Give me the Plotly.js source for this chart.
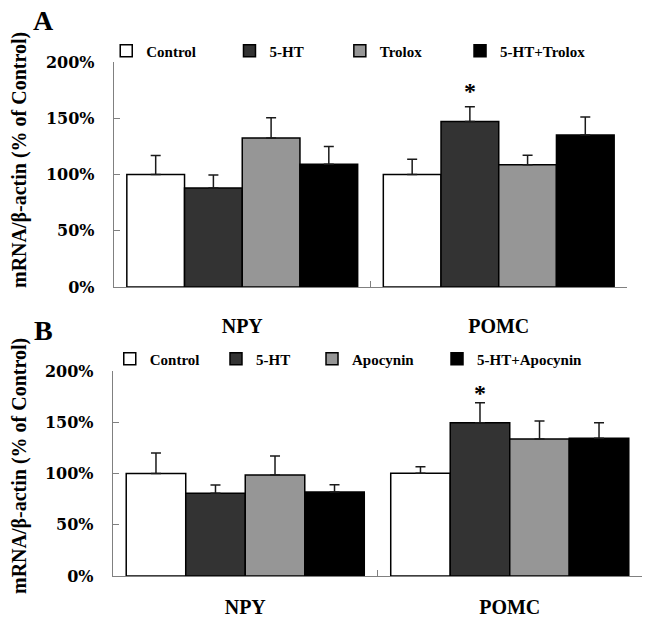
<!DOCTYPE html>
<html>
<head>
<meta charset="utf-8">
<script src="https://cdn.plot.ly/plotly-3.0.1.min.js"></script>
<style>html,body{margin:0;padding:0;background:#fff;}#chart{width:648px;height:619px;}</style>
</head>
<body>
<div id="chart"></div>
<script>
// ---- data ----
const categories = ['NPY', 'POMC'];
const seriesA = ['Control', '5-HT', 'Trolox', '5-HT+Trolox'];
const seriesB = ['Control', '5-HT', 'Apocynin', '5-HT+Apocynin'];

const controlA = [100, 100];
const controlAErr = [16.8, 13.5];
const htA = [88, 147.2];
const htAErr = [11.5, 13];
const troloxA = [132.5, 108.6];
const troloxAErr = [18, 8.5];
const htTroloxA = [109.1, 135.1];
const htTroloxAErr = [15.7, 16];

const controlB = [100, 100.2];
const controlBErr = [20, 6.5];
const htB = [80.7, 149.6];
const htBErr = [8, 19.5];
const apocyninB = [98.5, 133.7];
const apocyninBErr = [18.5, 17.5];
const htApocyninB = [82, 134.3];
const htApocyninBErr = [7, 15.3];

const yTicks = [0, 50, 100, 150, 200];
const yTickText = ['0%', '50%', '100%', '150%', '200%'];
const panelLabels = ['A', 'B'];
const yTitle = 'mRNA/β-actin (% of Control)';
const significance = '*';

// ---- style ----
const fills = ['#ffffff', '#333333', '#969696', '#000000'];
const serif = '"Liberation Serif", "Times New Roman", Times, serif';
const axisGray = '#808080';

const valsA = [controlA, htA, troloxA, htTroloxA];
const errsA = [controlAErr, htAErr, troloxAErr, htTroloxAErr];
const valsB = [controlB, htB, apocyninB, htApocyninB];
const errsB = [controlBErr, htBErr, apocyninBErr, htApocyninBErr];

const traces = [];
function addPanel(names, vals, errs, xa, ya, legendOffset) {
  names.forEach((n, i) => {
    traces.push({
      type: 'bar', name: n, x: categories, y: vals[i],
      xaxis: xa, yaxis: ya,
      legend: 'legend' + (legendOffset + i === 1 ? '' : (legendOffset + i)),
      marker: {color: fills[i], line: {color: '#000', width: 1.5}},
      error_y: {type: 'data', symmetric: false, array: errs[i],
                arrayminus: errs[i].map(() => 0),
                color: '#1a1a1a', thickness: 1.5, width: 5},
      hoverinfo: 'name+y'
    });
  });
}
addPanel(seriesA, valsA, errsA, 'x', 'y', 1);
addPanel(seriesB, valsB, errsB, 'x2', 'y2', 5);

const legendFont = {family: serif, size: 15, color: '#000', weight: 'bold'};
const legendXA = [-0.0128, 0.2202, 0.4288, 0.6560];
const legendXB = [-0.0061, 0.1947, 0.3762, 0.6125];
const legendYA = 1.0214, legendYB = 0.4222;

function yAxis(domain, anchor) {
  return {
    domain: domain, anchor: anchor, range: [0, 200],
    tickmode: 'array', tickvals: yTicks, ticktext: yTickText,
    ticks: 'inside', ticklen: 6, tickcolor: axisGray, tickwidth: 1.3,
    showline: true, linecolor: axisGray, linewidth: 1.3,
    showgrid: false, zeroline: false,
    tickfont: {family: '"DejaVu Serif", serif', size: 16, color: '#000', weight: 'bold'},
    ticklabelstandoff: 15, fixedrange: true
  };
}
function xAxis(domain, anchor, standoff) {
  return {
    domain: domain, anchor: anchor, type: 'category',
    tickson: 'boundaries', ticks: 'inside', ticklen: 6, tickcolor: axisGray, tickwidth: 1.3,
    showline: true, linecolor: axisGray, linewidth: 1.3,
    showgrid: false, zeroline: false,
    tickfont: {family: serif, size: 20, color: '#000', weight: 'bold'},
    ticklabelstandoff: standoff, fixedrange: true
  };
}

const layout = {
  width: 648, height: 619,
  margin: {l: 113, r: 6, t: 62, b: 43},
  paper_bgcolor: '#fff', plot_bgcolor: '#fff',
  barmode: 'group', bargap: 0.1, bargroupgap: 0,
  xaxis: xAxis([0.0019, 0.9716], 'y', 21),
  yaxis: yAxis([0.5623, 1], 'x'),
  xaxis2: xAxis([0, 1], 'y2', 13),
  yaxis2: yAxis([0, 0.3988], 'x2'),
  annotations: [],
  showlegend: true
};

for (let i = 0; i < 8; i++) {
  const key = 'legend' + (i === 0 ? '' : (i + 1));
  const isA = i < 4;
  layout[key] = {
    x: isA ? legendXA[i] : legendXB[i - 4],
    y: isA ? legendYA : legendYB,
    xanchor: 'left', yanchor: 'middle',
    orientation: 'h', bgcolor: 'rgba(0,0,0,0)', borderwidth: 0,
    font: legendFont, traceorder: 'normal'
  };
}

// panel letters
[[panelLabels[0], 1.0798], [panelLabels[1], 0.4767]].forEach(([t, y]) => {
  layout.annotations.push({text: t, xref: 'paper', yref: 'paper', x: -0.1314, y: y,
    xanchor: 'center', yanchor: 'middle', showarrow: false,
    font: {family: serif, size: 28, color: '#000', weight: 'bold'}});
});
// y titles
[0.8093, 0.2140].forEach(y => {
  layout.annotations.push({text: yTitle, xref: 'paper', yref: 'paper', x: -0.1777, y: y,
    xanchor: 'center', yanchor: 'middle', textangle: -90, showarrow: false,
    font: {family: serif, size: 20, color: '#000', weight: 'bold'}});
});
// significance markers above 5-HT POMC bars
layout.annotations.push({text: significance, xref: 'x', yref: 'y', x: categories[1],
  y: htA[1] + htAErr[1], xshift: -28.7, yshift: 16, xanchor: 'center', yanchor: 'middle',
  showarrow: false, font: {family: serif, size: 24, color: '#000', weight: 'bold'}});
layout.annotations.push({text: significance, xref: 'x2', yref: 'y2', x: categories[1],
  y: htB[1] + htBErr[1], xshift: -29.5, yshift: 10, xanchor: 'center', yanchor: 'middle',
  showarrow: false, font: {family: serif, size: 24, color: '#000', weight: 'bold'}});

Plotly.newPlot('chart', traces, layout, {displayModeBar: false, staticPlot: true});
</script>
</body>
</html>
